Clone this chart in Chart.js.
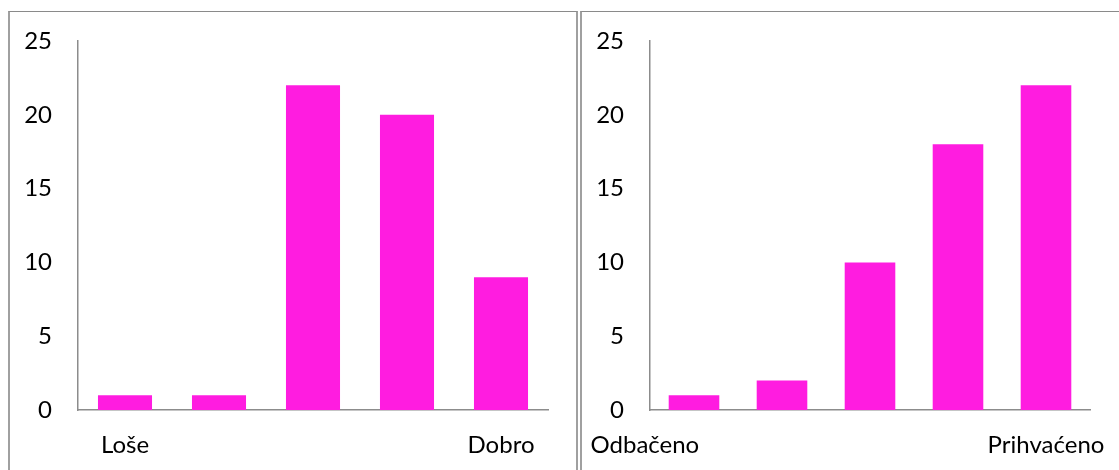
<!DOCTYPE html>
<html>
<head>
<meta charset="utf-8">
<script src="https://cdn.jsdelivr.net/npm/chart.js@4/dist/chart.umd.min.js"></script>
<style>
  html, body { margin:0; padding:0; background:#fff; width:1119px; height:470px; overflow:hidden; }
  .panel { position:absolute; box-sizing:border-box; border-top:1px solid #8a8a8a; border-left:2px solid #a0a0a0; border-right:2px solid #a0a0a0; }
  canvas { position:absolute; top:0; }
</style>
</head>
<body>
<div class="panel" style="left:8px; top:11px; width:570px; height:470px;"></div>
<div class="panel" style="left:580px; top:11px; width:560px; height:470px;"></div>
<canvas id="c1" style="left:0px;" width="578" height="470"></canvas>
<canvas id="c2" style="left:578px;" width="541" height="470"></canvas>
<script>
const leftCategories = ['Loše', '', '', '', 'Dobro'];
const leftValues = [1, 1, 22, 20, 9];
const rightCategories = ['Odbačeno' + '\u00A0'.repeat(16), '', '', '', 'Prihvaćeno'];
const rightValues = [1, 2, 10, 18, 22];
const yMin = 0, yMax = 25, yStep = 5;

const FONT = { family: 'Lato', size: 24 };
const AXIS = '#8c8c8c';
const BAR = '#FF1CE0';

function makeChart(id, labels, values, padLeft, yWidth, padRight) {
  return new Chart(document.getElementById(id), {
    type: 'bar',
    data: { labels: labels, datasets: [{ data: values, backgroundColor: BAR, borderWidth: 0,
      categoryPercentage: 1.0, barPercentage: 0.575 }] },
    options: {
      responsive: false, animation: false, devicePixelRatio: 1,
      layout: { padding: { left: padLeft, right: padRight, top: 41, bottom: 0 } },
      plugins: { legend: { display: false }, tooltip: { enabled: false } },
      scales: {
        x: {
          grid: { display: false, drawTicks: false },
          border: { display: true, color: AXIS, width: 1.5 },
          ticks: { color: '#000', font: FONT, padding: 21, autoSkip: false, maxRotation: 0, minRotation: 0 },
          afterFit: (a) => { a.height = 60; a.paddingLeft = 0; a.paddingRight = 0; }
        },
        y: {
          min: yMin, max: yMax,
          grid: { display: false, drawTicks: false },
          border: { display: true, color: AXIS, width: 1.5 },
          ticks: { stepSize: yStep, color: '#000', font: FONT, padding: 26 },
          afterFit: (a) => { a.width = yWidth; a.paddingTop = 0; a.paddingBottom = 0; }
        }
      }
    }
  });
}
makeChart('c1', leftCategories, leftValues, 0, 78, 30);
makeChart('c2', rightCategories, rightValues, 0, 72, 29);
</script>
</body>
</html>
